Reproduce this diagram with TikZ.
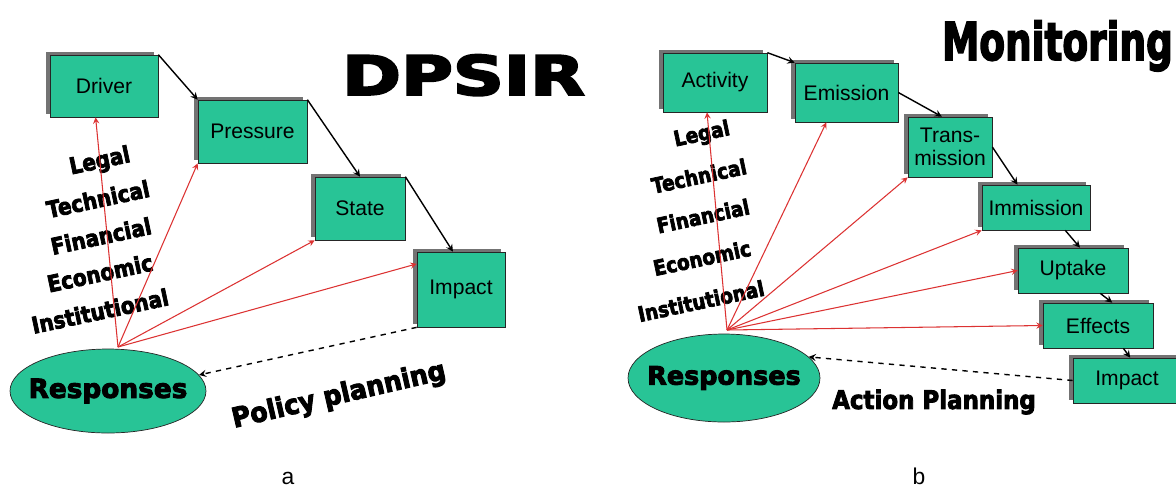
\documentclass[tikz,border=0pt]{standalone}
\usepackage{fontspec}
\usepackage{graphicx}
\setmainfont{Liberation Sans}
\newfontfamily\heavy{DejaVu Sans}[BoldFeatures={FakeBold=3.5}]
\usetikzlibrary{shapes.geometric,shadows}

\definecolor{boxgreen}{RGB}{40,196,150}
\definecolor{fanred}{RGB}{220,50,50}

\tikzstyle{box} = [rectangle, draw=black!85, fill=boxgreen, inner sep=0pt, align=center, font=\fontsize{12}{13}\selectfont, general shadow={fill=black!55, shadow xshift=-0.08cm, shadow yshift=0.07cm}]
\tikzstyle{resp} = [ellipse, draw=black!85, fill=boxgreen, inner sep=0pt]
\tikzstyle{arrow} = [thick,->,>=stealth]
\tikzstyle{fan} = [fanred,line width=0.6pt,->,>=stealth]
\tikzstyle{plan} = [thick,dashed,->,>=stealth]
\tikzstyle{tool} = [rotate=12, xscale=0.88, inner sep=0pt, font=\heavy\bfseries\fontsize{13}{13}\selectfont]
\tikzstyle{title} = [anchor=base, inner sep=0pt]
\tikzstyle{caption} = [anchor=base, inner sep=0pt, font=\fontsize{13}{13}\selectfont]

\begin{document}
\begin{tikzpicture}[x=0.02cm,y=-0.02cm]
    \path[use as bounding box, fill=white] (0,0) rectangle (1176,488);

    \node[box, minimum width=2.16cm, minimum height=1.24cm] (driver) at (104,86) {Driver};
    \node[box, minimum width=2.18cm, minimum height=1.26cm] (pressure) at (252.5,131.5) {Pressure};
    \node[box, minimum width=1.8cm, minimum height=1.26cm] (state) at (360,208.5) {State};
    \node[box, minimum width=1.76cm, minimum height=1.5cm] (impactA) at (461,289.5) {Impact};
    \node[resp, minimum width=3.92cm, minimum height=1.68cm,
          label={[font=\heavy\bfseries\fontsize{15}{15}\selectfont]center:Responses}] (respA) at (108,391) {};
    \coordinate (fanA) at (118,347);

    \node[tool] (legalA) at (100,162) {Legal};
    \node[tool] (technicalA) at (98,199) {Technical};
    \node[tool] (financialA) at (101,236) {Financial};
    \node[tool] (economicA) at (100,273) {Economic};
    \node[tool] (institutionalA) at (100,311) {Institutional};

    \node[title, font=\heavy\bfseries\fontsize{31}{31}\selectfont] (dpsir) at (463.5,95) {\scalebox{1.3}[1]{DPSIR}};
    \node[rotate=13, inner sep=0pt, font=\heavy\bfseries\fontsize{15.5}{16}\selectfont] (policy) at (339,396) {\scalebox{0.93}[1]{Policy planning}};
    \node[caption] (capA) at (288,484) {a};

    \draw [arrow] (driver.north east) -- (pressure.north west);
    \draw [arrow] (pressure.north east) -- (state.north);
    \draw [arrow] (state.north east) -- (impactA.102);
    \draw [fan] (fanA) -- (driver.255);
    \draw [fan] (fanA) -- (pressure.south west);
    \draw [fan] (fanA) -- (state.south west);
    \draw [fan] (fanA) -- (impactA.150);
    \draw [plan] (impactA.south west) -- (respA.10);

    \node[box, minimum width=2.08cm, minimum height=1.18cm] (activity) at (715,82.5) {Activity};
    \node[box, minimum width=2.06cm, minimum height=1.18cm] (emission) at (846.5,92.5) {Emission};
    \node[box, minimum width=1.68cm, minimum height=1.2cm] (transmission) at (950,147) {Trans-\\mission};
    \node[box, minimum width=2.16cm, minimum height=0.9cm] (immission) at (1036,207.5) {Immission};
    \node[box, minimum width=2.2cm, minimum height=0.9cm] (uptake) at (1073,270.5) {Uptake};
    \node[box, minimum width=2.2cm, minimum height=0.9cm] (effects) at (1098,325.5) {Effects};
    \node[box, minimum width=2.16cm, minimum height=0.9cm] (impactB) at (1127,380.5) {Impact};
    \node[resp, minimum width=3.84cm, minimum height=1.76cm,
          label={[font=\heavy\bfseries\fontsize{14.5}{15}\selectfont]center:Responses}] (respB) at (724,378) {};
    \coordinate (fanB) at (727,330);

    \node[tool, font=\heavy\bfseries\fontsize{12}{12}\selectfont] (legalB) at (702,135) {Legal};
    \node[tool, font=\heavy\bfseries\fontsize{12}{12}\selectfont] (technicalB) at (699,176) {Technical};
    \node[tool, font=\heavy\bfseries\fontsize{12}{12}\selectfont] (financialB) at (703,216) {Financial};
    \node[tool, font=\heavy\bfseries\fontsize{12}{12}\selectfont] (economicB) at (702,258) {Economic};
    \node[tool, font=\heavy\bfseries\fontsize{12}{12}\selectfont] (institutionalB) at (701,301) {Institutional};

    \node[title, font=\heavy\bfseries\fontsize{29.6}{30}\selectfont] (monitoring) at (1057.5,60) {\scalebox{0.72}[1]{Monitoring}};
    \node[inner sep=0pt, font=\heavy\bfseries\fontsize{14.5}{15}\selectfont] (action) at (934,402) {\scalebox{0.9}[1]{Action Planning}};
    \node[caption] (capB) at (919,484) {b};

    \draw [arrow] (activity.north east) -- (emission.north west);
    \draw [arrow] (emission.east) -- (transmission.105);
    \draw [arrow] (transmission.east) -- (immission.129);
    \draw [arrow] (immission.-38) -- (uptake.73);
    \draw [arrow] (uptake.-40) -- (effects.58);
    \draw [arrow] (effects.-42) -- (impactB.82);
    \draw [fan] (fanB) -- (activity.255);
    \draw [fan] (fanB) -- (emission.236);
    \draw [fan] (fanB) -- (transmission.south west);
    \draw [fan] (fanB) -- (immission.south west);
    \draw [fan] (fanB) -- (uptake.west);
    \draw [fan] (fanB) -- (effects.west);
    \draw [plan] (impactB.west) -- (respB.14);
\end{tikzpicture}
\end{document}
